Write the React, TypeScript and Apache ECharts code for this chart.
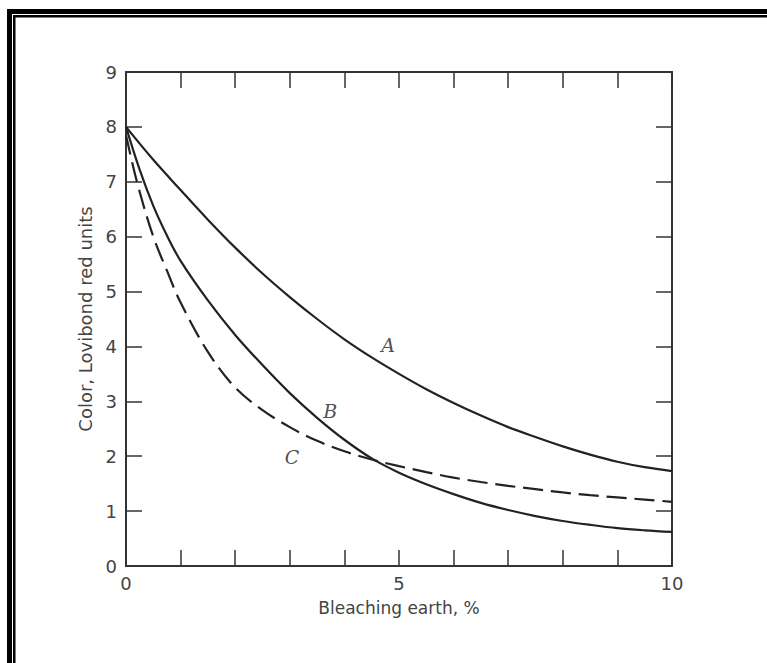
import React, { useEffect, useRef } from "react";
import * as echarts from "echarts";

const xA = [0, 0.5, 1, 1.5, 2, 2.5, 3, 3.5, 4, 4.5, 5, 5.5, 6, 6.5, 7, 7.5, 8, 8.5, 9, 9.5, 10];
const curveA = [8.0, 7.4, 6.85, 6.31, 5.8, 5.33, 4.9, 4.5, 4.13, 3.8, 3.5, 3.22, 2.97, 2.74, 2.53, 2.35, 2.18, 2.03, 1.9, 1.8, 1.73];
const xB = [0, 0.25, 0.5, 0.75, 1, 1.5, 2, 2.5, 3, 3.5, 4, 4.5, 5, 5.5, 6, 6.5, 7, 7.5, 8, 8.5, 9, 9.5, 10];
const curveB = [8.0, 7.22, 6.56, 6.02, 5.56, 4.84, 4.21, 3.66, 3.15, 2.7, 2.3, 1.96, 1.7, 1.49, 1.31, 1.15, 1.02, 0.91, 0.82, 0.75, 0.69, 0.65, 0.62];
const xC = [0, 0.2, 0.5, 0.75, 1, 1.5, 2, 2.5, 3, 3.5, 4, 4.5, 5, 5.5, 6, 6.5, 7, 7.5, 8, 8.5, 9, 9.5, 10];
const curveC = [7.85, 7.0, 6.0, 5.38, 4.8, 3.9, 3.25, 2.84, 2.53, 2.28, 2.09, 1.94, 1.82, 1.71, 1.61, 1.53, 1.46, 1.4, 1.34, 1.29, 1.25, 1.21, 1.17];
const curveLabels = ["A", "B", "C"];
const labelPos = [[4.8, 4.02], [3.74, 2.82], [3.04, 1.98]];
const xTitle = "Bleaching earth, %";
const yTitle = "Color, Lovibond red units";

const zip = (xs: number[], ys: number[]) => xs.map((x, i) => [x, ys[i]]);

export default function App() {
  const ref = useRef<HTMLDivElement>(null);
  useEffect(() => {
    const chart = echarts.init(ref.current!, null, { renderer: "svg" });
    const axisColor = "#333";
    const font = "DejaVu Sans";
    const tick = { show: true, inside: true, length: 16, lineStyle: { color: axisColor, width: 1.5 } };
    const line = { show: true, onZero: false, lineStyle: { color: axisColor, width: 2 } };
    chart.setOption({
      animation: false,
      backgroundColor: "#fff",
      grid: { left: 126, right: 95, top: 72, bottom: 97, containLabel: false },
      xAxis: [
        {
          type: "value", min: 0, max: 10, interval: 1, position: "bottom",
          axisLine: line, axisTick: tick, splitLine: { show: false },
          axisLabel: {
            color: "#444", fontFamily: font, fontSize: 18, margin: 8,
            formatter: (v: number) => (v % 5 === 0 ? String(v) : ""),
          },
          name: xTitle, nameLocation: "middle", nameGap: 33,
          nameTextStyle: { color: "#444", fontFamily: font, fontSize: 17 },
        },
        {
          type: "value", min: 0, max: 10, interval: 1, position: "top",
          axisLine: line, axisTick: tick, axisLabel: { show: false }, splitLine: { show: false },
        },
      ],
      yAxis: [
        {
          type: "value", min: 0, max: 9, interval: 1, position: "left",
          axisLine: line, axisTick: tick, splitLine: { show: false },
          axisLabel: { color: "#444", fontFamily: font, fontSize: 18, margin: 9 },
          name: yTitle, nameLocation: "middle", nameGap: 29,
          nameTextStyle: { color: "#444", fontFamily: font, fontSize: 18 },
        },
        {
          type: "value", min: 0, max: 9, interval: 1, position: "right",
          axisLine: line, axisTick: tick, axisLabel: { show: false }, splitLine: { show: false },
        },
      ],
      series: [
        { type: "line", data: zip(xA, curveA), smooth: 0.35, showSymbol: false, lineStyle: { color: "#222", width: 2.2 } },
        { type: "line", data: zip(xB, curveB), smooth: 0.35, showSymbol: false, lineStyle: { color: "#222", width: 2.2 } },
        { type: "line", data: zip(xC, curveC), smooth: 0.35, showSymbol: false, lineStyle: { color: "#222", width: 2.2, type: [20, 8] } },
        {
          type: "scatter", symbolSize: 0,
          data: labelPos.map((p, i) => ({ value: p, name: curveLabels[i] })),
          label: {
            show: true, position: "inside", formatter: (p: any) => p.name,
            fontFamily: "DejaVu Serif", fontStyle: "italic", fontSize: 19, color: "#222",
          },
        },
      ],
      graphic: [
        { type: "rect", shape: { x: 7, y: 9, width: 5, height: 700 }, style: { fill: "#000" } },
        { type: "rect", shape: { x: 13, y: 15, width: 2.5, height: 700 }, style: { fill: "#000" } },
        { type: "rect", shape: { x: 7, y: 9, width: 800, height: 5 }, style: { fill: "#000" } },
        { type: "rect", shape: { x: 13, y: 15, width: 800, height: 2.5 }, style: { fill: "#000" } },
      ],
    });
    return () => chart.dispose();
  }, []);
  return <div ref={ref} style={{ position: "fixed", left: 0, top: 0, width: 767, height: 663 }} />;
}
